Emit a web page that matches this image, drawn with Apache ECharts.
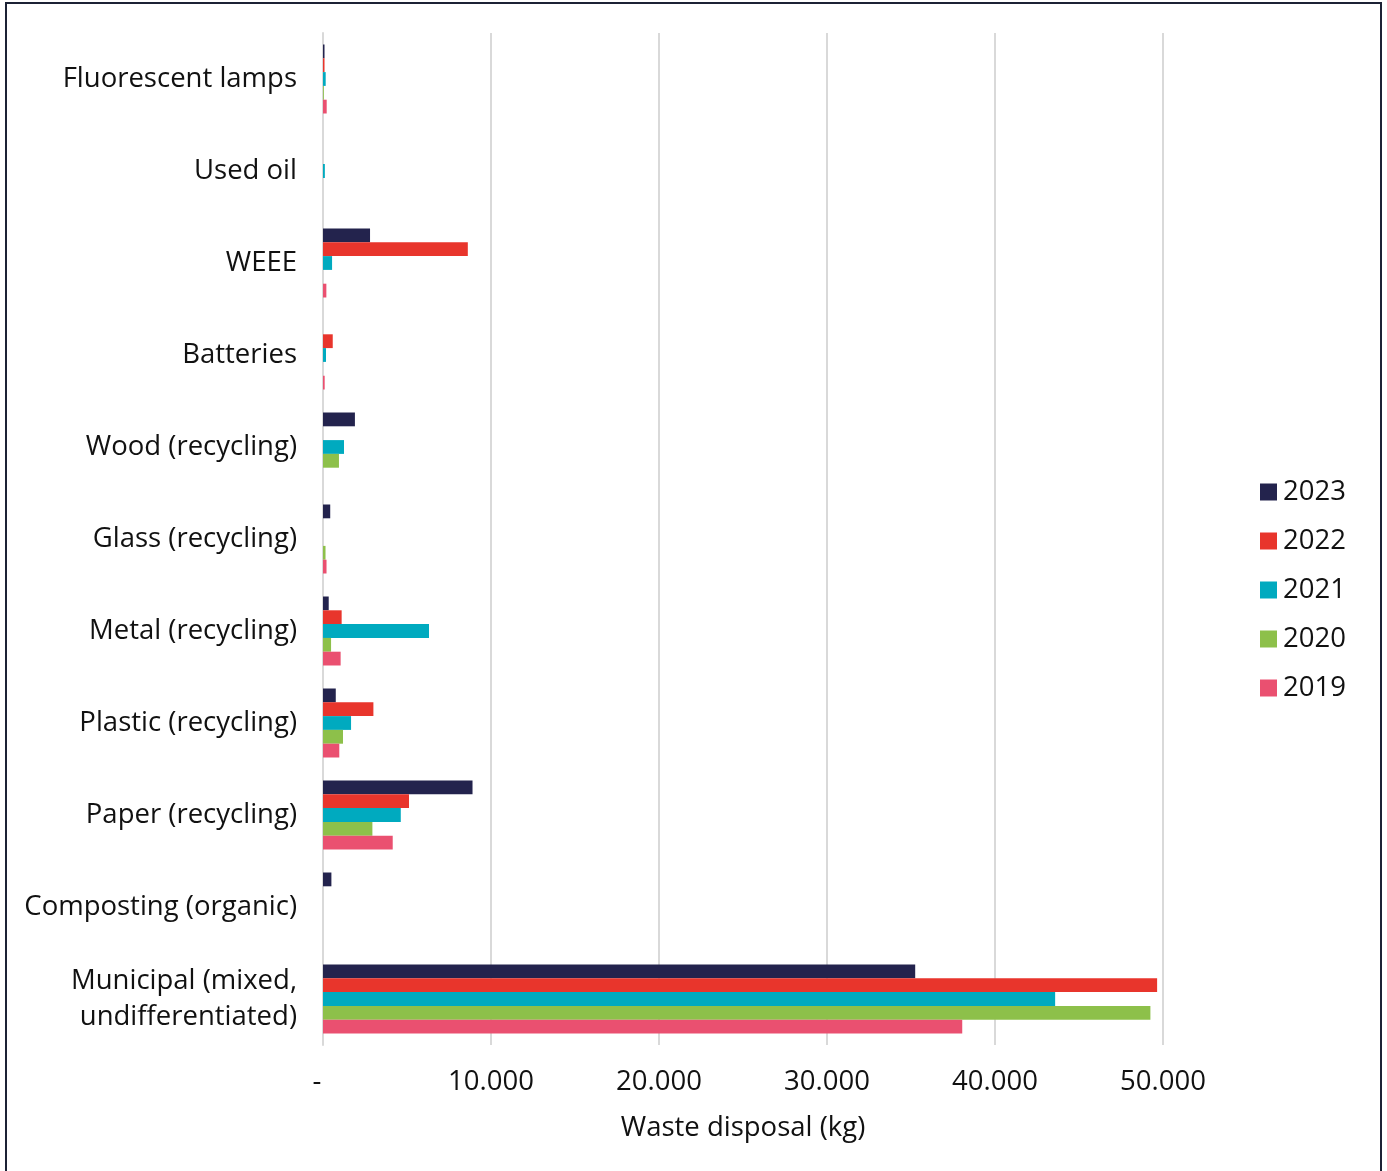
<!DOCTYPE html>
<html>
<head>
<meta charset="utf-8">
<title>Waste disposal by type</title>
<script src="https://cdn.jsdelivr.net/npm/echarts@6/dist/echarts.min.js"></script>
<style>
  html, body { margin: 0; padding: 0; background: #ffffff; }
  #frame {
    position: absolute; left: 5px; top: 2px;
    width: 1373px; height: 1200px;
    border: 2px solid #1c2235;
    box-sizing: content-box;
  }
  #chart { position: absolute; left: 0; top: 0; width: 1387px; height: 1171px; }
</style>
</head>
<body>
<div id="frame"></div>
<div id="chart"></div>
<script>
// Waste categories, listed top to bottom
const categories = [
  'Fluorescent lamps',
  'Used oil',
  'WEEE',
  'Batteries',
  'Wood (recycling)',
  'Glass (recycling)',
  'Metal (recycling)',
  'Plastic (recycling)',
  'Paper (recycling)',
  'Composting (organic)',
  'Municipal (mixed,\nundifferentiated)'
];

// Waste disposal per year (kg), same order as categories
const y2023 = [90, 0, 2800, 0, 1900, 430, 340, 760, 8900, 500, 35250];
const y2022 = [90, 0, 8620, 580, 0, 0, 1110, 3000, 5120, 0, 49650];
const y2021 = [160, 110, 540, 180, 1250, 0, 6310, 1670, 4630, 0, 43580];
const y2020 = [50, 0, 0, 0, 950, 150, 480, 1190, 2940, 0, 49250];
const y2019 = [220, 0, 200, 100, 0, 210, 1050, 970, 4150, 0, 38050];

const years = ['2023', '2022', '2021', '2020', '2019'];
const seriesValues = [y2023, y2022, y2021, y2020, y2019];
const colors = ['#23234d', '#e8352c', '#00aabf', '#8dc04a', '#ea5070'];

const FONT = '"Open Sans"';
const FONT_SIZE = 27.5;

// Thousands separated by dots; zero shown as a dash set slightly left
function formatKg(v) {
  if (v === 0) return '{dash|-}';
  return String(v).replace(/\B(?=(\d{3})+(?!\d))/g, '.');
}

const chart = echarts.init(document.getElementById('chart'), null, { renderer: 'canvas' });

chart.setOption({
  animation: false,
  color: colors,
  textStyle: { fontFamily: FONT, color: '#111111' },
  grid: { left: 323, right: 224, top: 33, bottom: 126, containLabel: false },
  legend: {
    orient: 'vertical',
    left: 1260,
    top: 478,
    padding: 0,
    icon: 'rect',
    itemWidth: 17,
    itemHeight: 17,
    itemGap: 21,
    textStyle: { fontFamily: FONT, fontSize: FONT_SIZE, lineHeight: 27, color: '#111111', padding: [0, 0, 0, 1] },
    data: years
  },
  xAxis: {
    type: 'value',
    min: 0,
    max: 50000,
    interval: 10000,
    name: 'Waste disposal (kg)',
    nameLocation: 'middle',
    nameGap: 69,
    nameTextStyle: { fontFamily: FONT, fontSize: FONT_SIZE, color: '#111111' },
    axisLine: { show: false },
    axisTick: { show: false },
    axisLabel: {
      margin: 23,
      fontFamily: FONT,
      fontSize: FONT_SIZE,
      color: '#111111',
      formatter: formatKg,
      rich: {
        dash: { fontFamily: FONT, fontSize: FONT_SIZE, color: '#111111', padding: [0, 12, 0, 0] }
      }
    },
    splitLine: { show: true, lineStyle: { color: '#d9d9d9', width: 2 } }
  },
  yAxis: {
    type: 'category',
    inverse: true,
    data: categories,
    axisLine: { show: true, lineStyle: { color: '#d9d9d9', width: 2 } },
    axisTick: { show: false },
    axisLabel: {
      margin: 26,
      fontFamily: FONT,
      fontSize: FONT_SIZE,
      lineHeight: 36,
      padding: [8, 0, 0, 0],
      color: '#111111',
      align: 'right'
    }
  },
  series: years.map((y, i) => ({
    name: y,
    type: 'bar',
    data: seriesValues[i],
    barGap: '0%',
    barCategoryGap: '25%',
    itemStyle: { color: colors[i] }
  }))
});
</script>
</body>
</html>
